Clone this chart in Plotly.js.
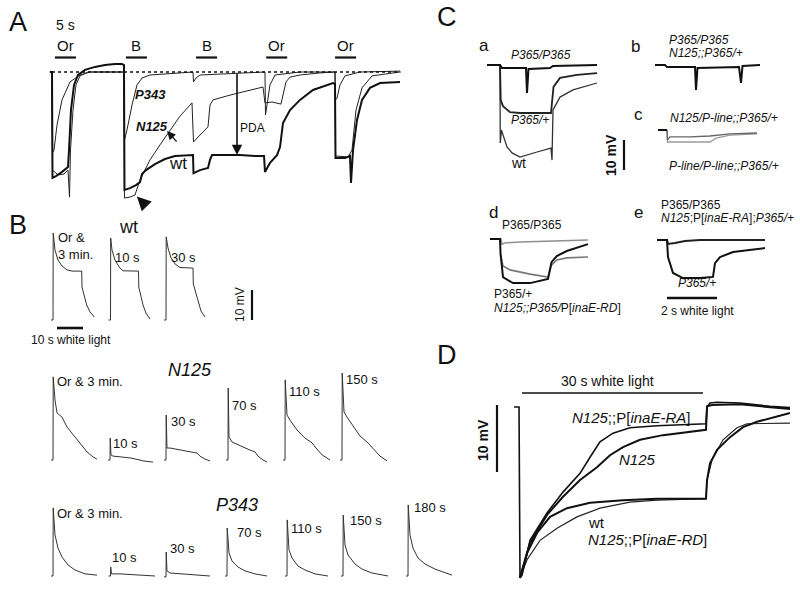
<!DOCTYPE html>
<html>
<head>
<meta charset="utf-8">
<script src="https://cdn.plot.ly/plotly-3.0.1.min.js"></script>
<style>html,body{margin:0;padding:0;background:#fff;}#chart{width:800px;height:589px;}</style>
</head>
<body>
<div id="chart"></div>
<script>
// ---------------- DATA (time in s, membrane potential in mV) ----------------
// Panel A : continuous recordings, time from first light onset
const aTimeWt = [-0.5,0,0.12,0.95,2.38,3.81,4.05,4.52,5.24,6.19,7.86,10.24,12.62,15.0,16.67,17.14,17.26,18.57,20.0,20.95,21.43,22.38,24.52,26.9,29.29,31.67,33.57,33.69,35.24,37.14,37.62,38.1,44.76,48.33,50.48,50.71,51.9,53.57,54.29,55.0,56.67,59.05,62.14,66.9,67.38,67.5,69.76,70.95,71.19,71.67,72.62,73.81,75.71,78.1,82.86];
const aMvWt   = [0,0,-35.3,-34.7,-33.3,-31.7,-26,-12.7,-4.3,-1,0.7,1.7,2.3,2.7,2.7,2.3,-39.3,-38.7,-37.7,-36.7,-34,-32.7,-30.7,-29,-28,-27.7,-27.7,-33.7,-32.7,-32,-29.3,-27.7,-27.7,-28,-28,-33.3,-30.3,-27.7,-25,-17,-12.7,-9.3,-6,-3.7,-4,-28.7,-28.7,-28,-37,-26,-16,-9.3,-5.3,-3.7,-3.3];
const aTimeN125 = [-0.5,0,0.12,1.43,2.86,3.81,4.17,4.4,5.0,5.71,6.67,8.57,17.14,17.26,18.57,19.76,20.95,23.33,25.71,28.1,30.48,33.33,33.69,35.24,37.14,37.62,38.33,42.38,47.14,50.24,50.71,52.38,54.52,55.0,55.71,56.67,59.05,63.81,67.38,67.5,70.48,71.43,72.38,73.81,76.19,82.86];
const aMvN125   = [0,0,-32.7,-34.3,-34,-32.7,-41.7,-26,-12.7,-4.3,-1.3,0,0,-42,-41.7,-41,-36,-29.3,-24.3,-19.3,-14.7,-10.3,-23.3,-21,-18.3,-11,-9.3,-7.7,-6,-5,-10.3,-10,-10.7,-7.7,-3.3,-1.7,-1,-0.3,0,-28,-28.3,-26,-12.7,-5.3,-1.3,0];
const aTimeP343 = [-0.5,0,0.12,0.48,1.19,2.38,4.29,6.67,9.05,17.14,17.26,17.86,19.05,20.24,21.43,23.33,33.57,33.69,34.29,35.24,50.71,50.83,51.19,51.9,53.1,59.05,67.38,67.5,67.86,68.57,69.76,73.33,82.86];
const aMvP343   = [0,0,-27,-26,-17.7,-9.3,-3.3,-1,0,0,-22.7,-19.3,-11,-4.3,-2,-1,0,-3.3,-2,-1,0,-14.3,-11,-4.3,-1,0,0,-9.3,-8.7,-4.3,-1.3,0,0.3];
const aStimStart = [0.7, 17.6, 34.3, 51.0, 67.4];
const aStimLabel = ['Or','B','B','Or','Or'];
const aStimDur = 5;
const aPdaTime = 44.05, aPdaMv = -27.7;

// Panel B : 10 s white-light responses (time from light onset)
const bWtLabels = ['Or &<br>3 min.','10 s','30 s'];
const bWtTime = [
 [-0.77,0,0.08,0.77,1.92,3.46,5.38,7.31,11.04,11.15,11.73,12.96,14.23,15.88],
 [-0.77,0,0.08,0.58,1.73,3.27,4.81,10.77,10.88,11.35,12.5,13.65,15.19],
 [-0.77,0,0.08,0.77,1.92,3.46,5.38,10.38,10.5,11.15,12.31,13.46,15.0]];
const bWtMv = [
 [0,0,29,23.3,20,18,16.7,16.3,16.3,11,9,5,2.7,1],
 [0,0,27.3,23.3,20,17.7,16.4,16.3,11,9,5,2.3,0.3],
 [0,0,27.7,24,20.7,18.7,17.5,17.3,12,10,6,3,1]];
const bN125Labels = ['Or & 3 min.','10 s','30 s','70 s','110 s','150 s'];
const bN125Time = [
 [-0.77,0,0.08,0.77,1.54,3.46,5.38,9.23,13.08,15.38,16.92],
 [-0.77,0,0.08,0.38,1.15,3.85,7.69,11.54,12.69,16.54],
 [-0.77,0,0.08,0.38,1.54,5.38,9.23,11.92,13.08,15,16.92],
 [-0.77,0,0.08,0.38,1.54,4.62,8.46,10.38,11.54,13.46,15],
 [-0.77,0,0.08,0.77,1.92,4.62,7.69,10.38,11.92,14.23,17.31],
 [-0.77,0,0.08,0.77,1.92,3.85,6.92,10,11.92,14.62,17.31]];
const bN125Mv = [
 [0,0,27.7,20,15.7,14.3,11,6.7,2.7,1,0.3],
 [0,0,7.3,1.7,1.3,1,0.7,0,-0.3,-0.7],
 [0,0,15,4,4,3.3,2.7,2.3,1.3,0.3,-0.3],
 [0,0,24,7.7,6,4.7,3.3,2.7,1.3,0,-0.7],
 [0,0,26.7,15,13.3,10,7.3,5.7,4,1.7,0],
 [0,0,29,16,14.3,11.7,8,5.7,4,1.3,-0.3]];
const bP343Labels = ['Or & 3 min.','10 s','30 s','70 s','110 s','150 s','180 s'];
const bP343Time = [
 [-0.77,0,0.08,0.77,1.92,3.46,5.77,8.46,12.31,16.92],
 [-0.77,0,0.08,0.38,3.65,11.35,17.12],
 [-0.77,0,0.08,0.38,1.54,7.31,13.08,16.92],
 [-0.77,0,0.08,0.77,1.92,4.23,6.92,10.77,15.38],
 [-0.77,0,0.08,0.77,1.92,4.23,6.92,10.77,15.77],
 [-0.77,0,0.08,0.77,1.92,4.62,7.31,11.15,17.31],
 [-0.77,0,0.08,0.77,1.92,3.85,6.54,10.38,16.92]];
const bP343Mv = [
 [0,0,22.7,13.7,9.3,6.3,3.7,2,0.7,0.3],
 [0,0,3,0.7,0.7,0.3,0],
 [-0.3,-0.3,8,1.7,1,0.7,0.3,0],
 [0,0,16,7.7,5,3,1.7,0.7,0],
 [0,0,18.7,8.7,6,3.3,2,0.7,0],
 [0,0,20.3,10.3,7,4,2.3,1,0],
 [0,0,23.7,13.7,9.3,6,4,2.3,0.3]];

// Panel C : 2 s white-light responses
const caTimeHom = [-0.52,0,0.08,1.04,1.08,1.14,2.0,2.12,3.88];
const caMvHom   = [0,0,-1,-1,-9.3,-1.3,-1,-0.3,0];
const caTimeHet = [-0.52,0,0.03,0.12,0.4,0.8,2.04,2.08,2.14,2.4,3.08,3.88];
const caMvHet   = [0,0,-11.7,-13.7,-15.7,-16,-16,-11.7,-7.3,-4.3,-3.3,-2.7];
const caTimeWt  = [-0.52,0,0.01,0.06,0.12,0.28,0.48,0.8,1.48,2.04,2.08,2.12,2.4,2.92,3.88];
const caMvWt    = [0,0,-26,-21.7,-23.3,-27.3,-29.3,-30.7,-29,-27.7,-31.7,-15,-10.7,-8.3,-6];
const cbTime = [-0.4,0,0.08,1.2,1.24,1.3,2.96,3.04,3.1,3.8];
const cbMv   = [0,0,-0.7,-0.7,-8.3,-1,-0.7,-6,-0.3,0];
const ccTimeBase = [-0.36,0];
const ccMvBase   = [0,0];
const ccTimeA = [0,0.02,0.12,0.92,1.72,2.52,3.6];
const ccMvA   = [0,-3.3,-2.3,-2.3,-2,-1.3,-1];
const ccTimeB = [0,0.02,0.12,0.92,1.72,1.96,2.52,3.6];
const ccMvB   = [0,-4,-4,-4,-4,-2.7,-1.7,-1.3];
const cdTimeHom = [-0.44,0,0.04,0.16,0.76,2.36,3.48];
const cdMvHom   = [0,0,-1.7,-1.3,-1,-0.7,-0.3];
const cdTimeHet = [-0.44,-0.04,-0.02,0.08,0.48,1.16,1.88,2.02,2.23,2.63,3.48];
const cdMvHet   = [0,0,-4.7,-12.7,-14.7,-14.7,-13.3,-7.7,-5.7,-4,-1.7];
const cdTimeRD  = [-0.02,0.08,0.36,1.16,1.88,2.02,2.23,2.63,3.48];
const cdMvRD    = [-5.3,-9,-10.3,-11.7,-12.7,-8.7,-7,-6.3,-6];
const ceTimeHom = [-0.4,0,0.04,0.32,0.72,1.32,3.92];
const ceMvHom   = [0,0,-1.3,-1,-0.3,0,0];
const ceTimeHet = [-0.4,0,0.04,0.24,0.64,1.32,1.84,1.92,2.12,2.64,3.92];
const ceMvHet   = [0,0,-5.7,-11,-12.7,-12.7,-12.3,-7.7,-5.7,-4,-2.7];

// Panel D : 30 s white-light responses
const dTimeRA = [-0.98,-0.16,0,0.33,1.64,4.43,7.05,9.84,11.48,13.11,15.25,18.03,22.46,30.49,30.66,31.15,32.3,36.07,40.98,44.26];
const dMvRA   = [0,0,-25.5,-25.1,-19.9,-15.8,-12.7,-9.9,-7.5,-5.2,-3.9,-3.1,-2.8,-2.5,0,0.6,0.7,0.6,0.1,-0.1];
const dTimeN125 = [0,1.64,4.43,7.05,9.84,12.62,14.75,16.89,19.67,23.44,30.49,30.66,31.48,36.07,44.26];
const dMvN125   = [-25.5,-20.3,-16.1,-13.4,-10.9,-9.0,-7.2,-6.0,-4.9,-4.2,-3.4,0.1,0.3,0.4,-0.3];
const dTimeWt = [0,1.15,2.79,4.92,7.7,11.48,16.89,22.46,30.49,30.66,31.15,32.3,34.43,36.56,38.85,44.26];
const dMvWt   = [-25.5,-21.8,-18.8,-16.4,-15.1,-14.3,-13.9,-13.7,-13.7,-10.9,-8.4,-6.4,-4.5,-3.0,-2.2,-0.9];
const dTimeRD = [0,1.15,3.28,6.07,9.34,13.11,18.03,22.46,30.49,30.66,31.48,33.28,35.57,37.21,44.26];
const dMvRD   = [-25.5,-22.8,-19.9,-18.1,-16.4,-15.1,-14.2,-13.9,-13.7,-10.9,-7.9,-4.9,-3.1,-2.5,-2.4];

// ---------------- LAYOUT ----------------
const W = 800, H = 589;
const FONT = 'Arial, "Liberation Sans", sans-serif';
const INK = '#111';
const layout = {
  width: W, height: H, autosize: false,
  margin: {l:0, r:0, t:0, b:0},
  paper_bgcolor: '#ffffff', plot_bgcolor: 'rgba(0,0,0,0)',
  showlegend: false, font: {family: FONT, color: INK},
  annotations: [], shapes: []
};
// axis n occupies pixel box; (ox,oy) pixel of t=0,v=0; (sx,sy) px per unit
function addAxis(n, px0, px1, py0, py1, ox, oy, sx, sy) {
  const s = n === 1 ? '' : String(n);
  layout['xaxis' + s] = {domain: [px0 / W, px1 / W], range: [(px0 - ox) / sx, (px1 - ox) / sx],
    visible: false, fixedrange: true, anchor: 'y' + s};
  layout['yaxis' + s] = {domain: [1 - py1 / H, 1 - py0 / H], range: [(oy - py1) / sy, (oy - py0) / sy],
    visible: false, fixedrange: true, anchor: 'x' + s};
}
addAxis(1, 40, 410, 35, 210, 52, 72, 4.2, 3);      // A
addAxis(2, 40, 460, 225, 335, 53, 320, 2.6, 3);    // B wt
addAxis(3, 40, 460, 365, 470, 53, 460, 2.6, 3);    // B N125
addAxis(4, 40, 460, 495, 586, 53, 576, 2.6, 3);    // B P343
addAxis(5, 480, 605, 55, 175, 500, 65, 25, 3);     // C a
addAxis(6, 650, 765, 55, 100, 665, 65, 25, 3);     // C b
addAxis(7, 605, 790, 100, 180, 667, 130, 25, 3);   // C c
addAxis(8, 485, 600, 230, 290, 501, 239, 25, 3);   // C d
addAxis(9, 650, 770, 230, 305, 667, 240, 25, 3);   // C e
addAxis(10, 490, 798, 385, 585, 520, 407, 6.1, 6.7); // D

const traces = [];
function ref(n) { return n === 1 ? ['x','y'] : ['x' + n, 'y' + n]; }
function line(n, t, v, width, color, offset, dash) {
  const r = ref(n); offset = offset || 0;
  traces.push({x: t.map(a => a + offset), y: v, xaxis: r[0], yaxis: r[1], mode: 'lines',
    line: {width: width, color: color, dash: dash || 'solid'}, hoverinfo: 'skip', cliponaxis: false});
}
function txt(text, xpx, ypx, size, o) {
  layout.annotations.push(Object.assign({text: text, x: xpx / W, y: 1 - ypx / H, xref: 'paper', yref: 'paper',
    showarrow: false, xanchor: 'left', yanchor: 'middle', borderpad: 0,
    font: {size: size, family: FONT, color: INK}}, o || {}));
}
function seg(n, x0, y0, x1, y1, width, dash) {
  const r = ref(n);
  layout.shapes.push({type: 'line', xref: r[0], yref: r[1], x0: x0, y0: y0, x1: x1, y1: y1,
    line: {color: INK, width: width, dash: dash || 'solid'}});
}

// ---- Panel A ----
seg(1, 0, 0, 83, 0, 1.6, 'dot');
line(1, aTimeP343, aMvP343, 1, '#222');
line(1, aTimeN125, aMvN125, 1, '#222');
line(1, aTimeWt, aMvWt, 2, '#111');
aStimStart.forEach((s, i) => {
  seg(1, s, 4.83, s + aStimDur, 4.83, 2.2);
  layout.annotations.push({text: aStimLabel[i], x: s + aStimDur / 2, y: 9, xref: 'x', yref: 'y',
    showarrow: false, xanchor: 'center', yanchor: 'middle', font: {size: 15, family: FONT, color: INK}});
});
layout.annotations.push({text: '', x: aPdaTime, y: aPdaMv, ax: aPdaTime, ay: 0, xref: 'x', yref: 'y',
  axref: 'x', ayref: 'y', showarrow: true, arrowhead: 2, arrowsize: 1.3, arrowwidth: 1.6, arrowcolor: INK});
layout.annotations.push({text: '', x: 27.4, y: -19.7, ax: 30, ay: -23.7, xref: 'x', yref: 'y',
  axref: 'x', ayref: 'y', showarrow: true, arrowhead: 2, arrowsize: 1.3, arrowwidth: 1.3, arrowcolor: INK});
layout.annotations.push({text: '', x: 20.2, y: -41.5, ax: 7, ay: 7, xref: 'x', yref: 'y',
  showarrow: true, arrowhead: 2, arrowsize: 1.4, arrowwidth: 2, arrowcolor: INK});
txt('A', 8, 22, 27);
txt('5 s', 55, 25, 14);
txt('<b><i>P343</i></b>', 134, 95, 13);
txt('<b><i>N125</i></b>', 135, 126, 13);
txt('wt', 168, 163, 17);
txt('PDA', 239, 128, 12);

// ---- Panel B ----
const bWtStartPx = [53, 110.5, 166];
const bN125StartPx = [53, 110, 166, 228, 285, 342];
const bP343StartPx = [53, 110.5, 166, 227, 287, 343, 408];
const toSec = px => (px - 53) / 2.6;
bWtTime.forEach((t, i) => line(2, t, bWtMv[i], 1, '#333', toSec(bWtStartPx[i])));
bN125Time.forEach((t, i) => line(3, t, bN125Mv[i], 1, '#333', toSec(bN125StartPx[i])));
bP343Time.forEach((t, i) => line(4, t, bP343Mv[i], 1, '#333', toSec(bP343StartPx[i])));
seg(2, toSec(252), 0, toSec(252), 10, 2.2);          // 10 mV
seg(2, toSec(57), -2.67, toSec(57) + 10, -2.67, 2.6); // 10 s light
txt('B', 8, 225, 27);
txt('wt', 128, 227, 18, {xanchor: 'center'});
txt(bWtLabels[0], 57, 246, 13, {align: 'left'});
txt(bWtLabels[1], 114, 257, 13);
txt(bWtLabels[2], 170, 257, 13);
txt('10 mV', 240, 305, 12, {textangle: -90, xanchor: 'center'});
txt('10 s white light', 71, 340, 12, {xanchor: 'center'});
txt('<i>N125</i>', 190, 370, 18, {xanchor: 'center'});
const n125LabPos = [[56,381],[112,443],[170,421],[231,405],[288,391],[345,379]];
bN125Labels.forEach((s, i) => txt(s, n125LabPos[i][0], n125LabPos[i][1], 13));
txt('<i>P343</i>', 237, 505, 18, {xanchor: 'center'});
const p343LabPos = [[56,513],[111,557],[169,548],[236,532],[290,528],[349,520],[413,507]];
bP343Labels.forEach((s, i) => txt(s, p343LabPos[i][0], p343LabPos[i][1], 13));

// ---- Panel C ----
line(5, caTimeWt, caMvWt, 1.3, '#333');
line(5, caTimeHet, caMvHet, 1.8, '#222');
line(5, caTimeHom, caMvHom, 2, '#111');
line(6, cbTime, cbMv, 2, '#111');
line(7, ccTimeB, ccMvB, 1.3, '#9a9a9a');
line(7, ccTimeA, ccMvA, 1.3, '#666');
line(7, ccTimeBase, ccMvBase, 2, '#111');
line(8, cdTimeHom, cdMvHom, 1.5, '#8f8f8f');
line(8, cdTimeRD, cdMvRD, 1.6, '#777');
line(8, cdTimeHet, cdMvHet, 2, '#111');
line(9, ceTimeHom, ceMvHom, 2, '#222');
line(9, ceTimeHet, ceMvHet, 2, '#111');
seg(7, (624 - 667) / 25, -3.33, (624 - 667) / 25, -13.33, 2.2); // 10 mV
seg(9, 0, -19.33, 2, -19.33, 2.6);                               // 2 s light
txt('C', 436, 17, 27);
txt('a', 478, 46, 17);
txt('<i>P365/P365</i>', 510, 55, 12);
txt('<i>P365/+</i>', 510, 120, 12);
txt('wt', 510, 163, 14);
txt('b', 630, 47, 17);
txt('<i>P365/P365</i>', 668, 40, 12);
txt('<i>N125;;P365/+</i>', 668, 53, 12);
txt('c', 633, 115, 17);
txt('<i>N125/P-line;;P365/+</i>', 669, 118, 12);
txt('<i>P-line/P-line;;P365/+</i>', 668, 166, 12);
txt('<b>10 mV</b>', 611, 155, 14, {textangle: -90, xanchor: 'center'});
txt('d', 488, 212, 17);
txt('P365/P365', 501, 225, 12);
txt('P365/+', 493, 294, 12);
txt('<i>N125;;P365/</i>P[<i>inaE-RD</i>]', 493, 308, 12);
txt('e', 633, 212, 17);
txt('P365/P365', 660, 205, 12);
txt('<i>N125</i>;P[<i>inaE-RA</i>];<i>P365/+</i>', 660, 218, 12);
txt('<i>P365/+</i>', 677, 283, 12);
txt('2 s white light', 660, 311, 12);

// ---- Panel D ----
line(10, dTimeRD, dMvRD, 1.2, '#222');
line(10, dTimeWt, dMvWt, 2, '#111');
line(10, dTimeN125, dMvN125, 2, '#111');
line(10, dTimeRA, dMvRA, 1.6, '#111');
seg(10, (497 - 520) / 6.1, 0.3, (497 - 520) / 6.1, -9.7, 2.2); // 10 mV
seg(10, 0.33, 2.09, 30, 2.09, 1.6);                             // 30 s light
txt('D', 436, 355, 27);
txt('30 s white light', 607, 381, 14, {xanchor: 'center'});
txt('<b>10 mV</b>', 483, 440, 14, {textangle: -90, xanchor: 'center'});
txt('<i>N125</i>;;P[<i>inaE-RA</i>]', 571, 417, 15);
txt('<i>N125</i>', 618, 459, 15);
txt('wt', 587, 522, 15);
txt('<i>N125</i>;;P[<i>inaE-RD</i>]', 587, 539, 15);

Plotly.newPlot('chart', traces, layout, {staticPlot: true, displayModeBar: false});
</script>
</body>
</html>
